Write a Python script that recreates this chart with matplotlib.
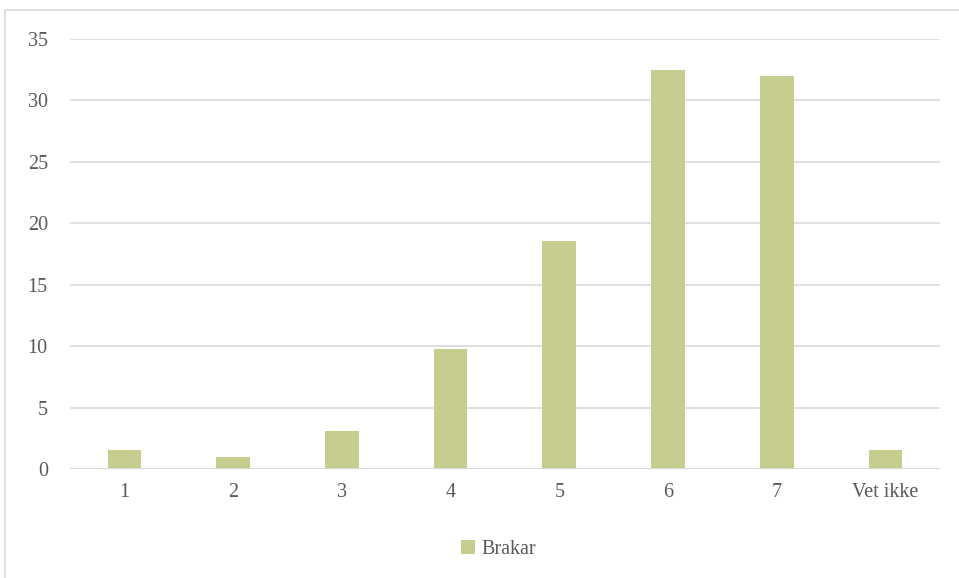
import matplotlib.pyplot as plt
from matplotlib.patches import Rectangle
import numpy as np

categories = ["1", "2", "3", "4", "5", "6", "7", "Vet ikke"]
brakar = [1.55, 1.0, 3.1, 9.75, 18.55, 32.5, 32.0, 1.55]
y_ticks = [0, 5, 10, 15, 20, 25, 30, 35]

plt.rcParams["font.family"] = ["Liberation Serif", "DejaVu Serif"]

fig = plt.figure(figsize=(9.59, 5.78), dpi=100)
ax = fig.add_axes([0.073, 0.1886, 0.907, 0.744])

x = np.arange(len(categories))
ax.bar(x, brakar, width=0.31, color="#c6cd8e", label="Brakar", zorder=3)

ax.set_xlim(-0.5, len(categories) - 0.5)
ax.set_ylim(0, 35)
ax.set_yticks(y_ticks)
ax.set_xticks(x)
ax.set_xticklabels(categories)
ax.grid(axis="y", color="#d9d9d9", lw=1.2, zorder=0)
ax.tick_params(length=0, labelsize=14.5, colors="#595959", pad=10)
ax.tick_params(axis="y", pad=16)
for s in ax.spines.values():
    s.set_visible(False)
ax.axhline(0, color="#d9d9d9", lw=1.2, zorder=4)

fig.legend(loc="center", bbox_to_anchor=(0.52, 0.05), frameon=False,
           fontsize=14.5, handlelength=0.7, handleheight=0.7,
           handletextpad=0.3, labelcolor="#595959")

# outer chart border (only top/left visible in the crop)
fig.patches.append(Rectangle((0.0055, -0.05), 1.1, 1.033, transform=fig.transFigure,
                             fill=False, edgecolor="#d9d9d9", lw=1.2))

fig.savefig("out.png", dpi=100)
